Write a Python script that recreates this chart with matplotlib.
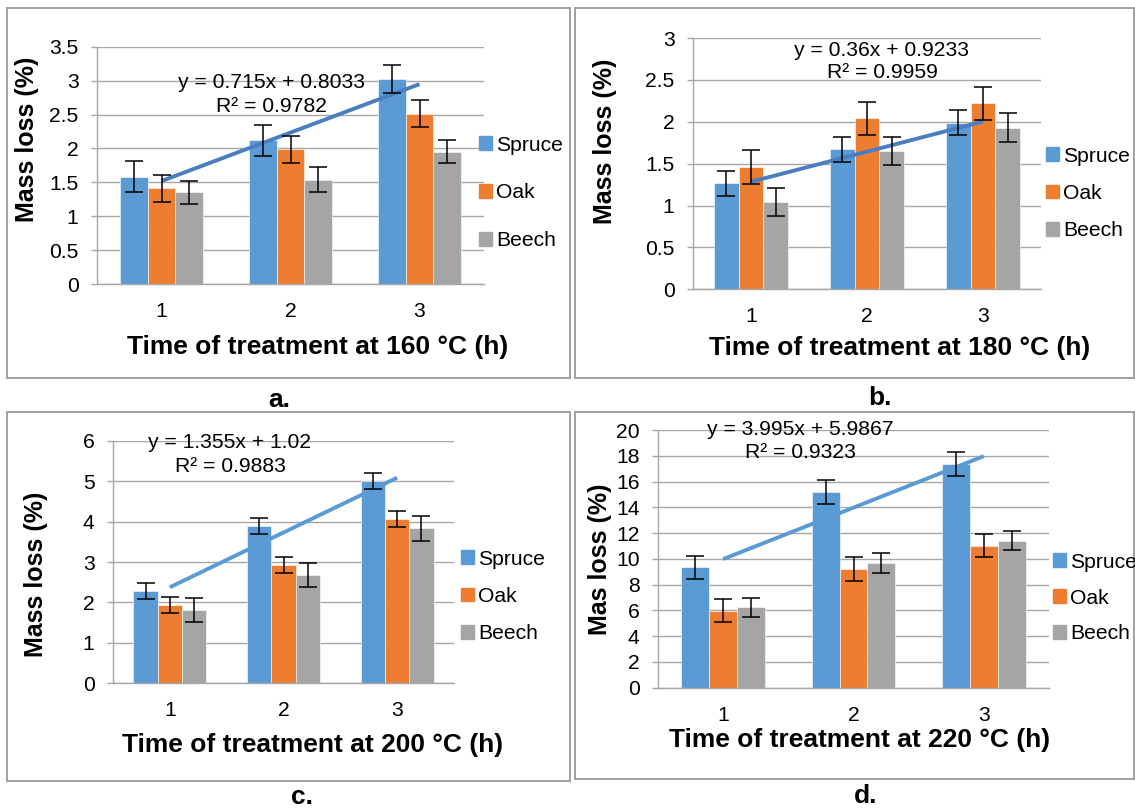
import matplotlib
matplotlib.use("Agg")
import matplotlib.pyplot as plt
from matplotlib.patches import Rectangle
import numpy as np

plt.rcParams['font.family'] = ['Liberation Sans', 'DejaVu Sans']

W, H = 1135, 810
DPI = 100

species = ["Spruce", "Oak", "Beech"]
hours = [1, 2, 3]
colors = {"Spruce": "#5B9BD5", "Oak": "#ED7D31", "Beech": "#A5A5A5"}

# Panel a: 160 °C
a_vals = {"Spruce": [1.58, 2.12, 3.02], "Oak": [1.41, 1.99, 2.51], "Beech": [1.35, 1.54, 1.95]}
a_errs = {"Spruce": [0.23, 0.23, 0.21], "Oak": [0.20, 0.20, 0.20], "Beech": [0.17, 0.18, 0.17]}
a_trend = (0.715, 0.8033)
a_trend_text = ["y = 0.715x + 0.8033", "R² = 0.9782"]
a_yticks = [0, 0.5, 1, 1.5, 2, 2.5, 3, 3.5]

# Panel b: 180 °C
b_vals = {"Spruce": [1.265, 1.67, 1.99], "Oak": [1.46, 2.04, 2.22], "Beech": [1.04, 1.65, 1.93]}
b_errs = {"Spruce": [0.15, 0.15, 0.15], "Oak": [0.20, 0.20, 0.20], "Beech": [0.17, 0.17, 0.17]}
b_trend = (0.36, 0.9233)
b_trend_text = ["y = 0.36x + 0.9233", "R² = 0.9959"]
b_yticks = [0, 0.5, 1, 1.5, 2, 2.5, 3]

# Panel c: 200 °C
c_vals = {"Spruce": [2.28, 3.89, 5.00], "Oak": [1.94, 2.93, 4.06], "Beech": [1.81, 2.68, 3.83]}
c_errs = {"Spruce": [0.20, 0.20, 0.20], "Oak": [0.20, 0.20, 0.20], "Beech": [0.30, 0.30, 0.30]}
c_trend = (1.355, 1.02)
c_trend_text = ["y = 1.355x + 1.02", "R² = 0.9883"]
c_yticks = [0, 1, 2, 3, 4, 5, 6]

# Panel d: 220 °C
d_vals = {"Spruce": [9.34, 15.21, 17.36], "Oak": [5.98, 9.21, 11.02], "Beech": [6.24, 9.68, 11.41]}
d_errs = {"Spruce": [0.90, 0.93, 0.92], "Oak": [0.90, 0.90, 0.90], "Beech": [0.75, 0.74, 0.75]}
d_trend = (3.995, 5.9867)
d_trend_text = ["y = 3.995x + 5.9867", "R² = 0.9323"]
d_yticks = [0, 2, 4, 6, 8, 10, 12, 14, 16, 18, 20]

xlabels = ["Time of treatment at 160 °C (h)", "Time of treatment at 180 °C (h)",
           "Time of treatment at 200 °C (h)", "Time of treatment at 220 °C (h)"]
ylabels = ["Mass loss (%)", "Mass loss (%)", "Mass loss (%)", "Mas loss (%)"]
letters = ["a.", "b.", "c.", "d."]

fig = plt.figure(figsize=(W / DPI, H / DPI), dpi=DPI)

def fx(px):
    return px / W

def fy(py):
    return 1 - py / H

GRID = "#A6A6A6"
BORDER = "#A0A0A0"
FS = 15.2
FSB = 19
FSY = 18

panels = [
    dict(vals=a_vals, errs=a_errs, trend=a_trend, ttext=a_trend_text, yticks=a_yticks,
         box=(7, 8, 570, 378), ax=(97, 46.7, 484, 284), trend_color="#4A7EC1",
         tpos=(272, 83, 107), leg=(479, 143, 50), ylab=(27, 139), xlab=(318, 347), let=(279, 400)),
    dict(vals=b_vals, errs=b_errs, trend=b_trend, ttext=b_trend_text, yticks=b_yticks,
         box=(575, 8, 1134, 378), ax=(693, 38, 1041, 289.3), trend_color="#4A7EC1",
         tpos=(882, 51, 73), leg=(1046, 154, 39.5), ylab=(605, 141), xlab=(900, 348), let=(880, 398)),
    dict(vals=c_vals, errs=c_errs, trend=c_trend, ttext=c_trend_text, yticks=c_yticks,
         box=(7, 412, 570, 781), ax=(113, 440.7, 454, 683.3), trend_color="#5B9BD5",
         tpos=(230, 442, 466), leg=(461, 557, 39.5), ylab=(36, 574), xlab=(313, 745), let=(302, 797)),
    dict(vals=d_vals, errs=d_errs, trend=d_trend, ttext=d_trend_text, yticks=d_yticks,
         box=(575, 412, 1134, 779), ax=(658, 430, 1049, 687.7), trend_color="#5B9BD5",
         tpos=(800, 429, 453), leg=(1053, 560, 38), ylab=(600, 559), xlab=(860, 740), let=(866, 796)),
]

bw = 0.214
x = np.array(hours, dtype=float)

for i, p in enumerate(panels):
    bx0, by0, bx1, by1 = p["box"]
    fig.patches.append(Rectangle((fx(bx0), fy(by1)), fx(bx1) - fx(bx0), fy(by0) - fy(by1),
                                 transform=fig.transFigure, fill=False, edgecolor=BORDER,
                                 linewidth=1.4, zorder=0))
    l, t, r, b = p["ax"]
    ax = fig.add_axes([fx(l), fy(b), fx(r) - fx(l), fy(t) - fy(b)])
    for j, sp in enumerate(species):
        ax.bar(x + (j - 1) * bw, p["vals"][sp], width=bw, color=colors[sp],
               edgecolor="white", linewidth=0.4, label=sp, zorder=2,
               yerr=p["errs"][sp], capsize=6.5,
               error_kw=dict(ecolor="black", elinewidth=1.1, capthick=1.1, zorder=4))
    m, c0 = p["trend"]
    ax.plot(x, m * x + c0, color=p["trend_color"], linewidth=2.8, zorder=3,
            solid_capstyle="butt")
    ax.set_xlim(0.5, 3.5)
    yt = p["yticks"]
    ax.set_ylim(0, yt[-1])
    ax.set_yticks(yt)
    ax.set_yticklabels([f"{v:g}" for v in yt], fontsize=FS)
    ax.set_xticks(x)
    ax.set_xticklabels([str(hh) for hh in hours], fontsize=FS)
    ax.yaxis.grid(True, color=GRID, linewidth=1.0, zorder=0)
    ax.set_axisbelow(True)
    ax.tick_params(axis="y", length=4.3, color=GRID, width=1.0, pad=9.0)
    ax.tick_params(axis="x", length=0, pad=13.0)
    for s in ["top", "right"]:
        ax.spines[s].set_visible(False)
    ax.spines["left"].set_color(GRID)
    ax.spines["bottom"].set_color(GRID)
    ax.spines["left"].set_linewidth(1.0)
    ax.spines["bottom"].set_linewidth(1.0)
    ax.set_facecolor("none")

    # trendline equation
    tx, ty1, ty2 = p["tpos"]
    fig.text(fx(tx), fy(ty1), p["ttext"][0], ha="center", va="center", fontsize=FS)
    fig.text(fx(tx), fy(ty2), p["ttext"][1], ha="center", va="center", fontsize=FS)

    # legend
    lx, ly0, lsp = p["leg"]
    leg_handles = [Rectangle((0, 0), 1, 1, color=colors[sp]) for sp in species]
    fs_px = FS * DPI / 72
    fig.legend(leg_handles, species, loc="center left",
               bbox_to_anchor=(fx(lx), fy(ly0 + lsp)), bbox_transform=fig.transFigure,
               frameon=False, fontsize=FS, handlelength=0.6, handleheight=0.6,
               handletextpad=0.22, borderpad=0, borderaxespad=0,
               labelspacing=(lsp - fs_px * 1.0) / fs_px)

    # axis labels
    yx, yy = p["ylab"]
    fig.text(fx(yx), fy(yy), ylabels[i], rotation=90, ha="center", va="center",
             fontsize=FSY, fontweight="bold")
    xx, xy = p["xlab"]
    fig.text(fx(xx), fy(xy), xlabels[i], ha="center", va="center",
             fontsize=FSB, fontweight="bold")
    lx2, ly2 = p["let"]
    fig.text(fx(lx2), fy(ly2), letters[i], ha="center", va="center",
             fontsize=FSB, fontweight="bold")

fig.savefig("out.png", dpi=DPI)
